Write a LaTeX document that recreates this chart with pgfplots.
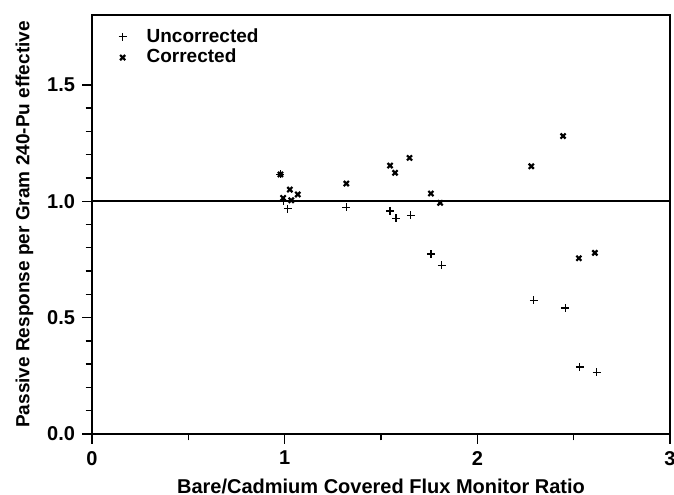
\documentclass[border=0pt]{standalone}
\usepackage{fontspec}
\setmainfont{Liberation Sans}
\usepackage{pgfplots}
\pgfplotsset{compat=1.18}

\begin{document}
\begin{tikzpicture}
  \begin{axis}[
    scale only axis,
    width=289pt, height=209.5pt,
    xmin=0, xmax=3,
    ymin=0, ymax=1.8,
    xtick={0,1,2,3},
    ytick={0,0.5,1,1.5},
    minor x tick num=1,
    minor y tick num=4,
    tick align=outside,
    tick pos=left,
    major tick length=5pt,
    minor tick length=3.2pt,
    every tick/.style={black, line width=0.7pt},
    axis line style={line width=0.8pt},
    /pgf/number format/assume math mode=true,
    ticklabel style={font=\bfseries\fontsize{10}{12}\selectfont},
    yticklabel style={/pgf/number format/.cd, fixed, fixed zerofill, precision=1},
    xticklabel style={/pgf/number format/.cd, fixed, precision=0},
    xlabel={Bare/Cadmium Covered Flux Monitor Ratio},
    ylabel={Passive Response per Gram 240-Pu effective},
    xlabel style={font=\bfseries\fontsize{10}{12}\selectfont},
    ylabel style={font=\bfseries\fontsize{9.5}{11}\selectfont, yshift=0pt},
    legend style={draw=none, fill=none, at={(0.035,0.988)}, anchor=north west,
      font=\bfseries\fontsize{9.5}{11}\selectfont, row sep=-2pt},
    legend image code/.code={\draw[#1] plot coordinates {(0pt,0pt)};},
    /tikz/every odd column/.style={column sep=8pt},
    legend cell align=left,
  ]
  \addplot [only marks, mark=+, mark size=2pt, line width=0.6pt, black] coordinates {
    (0.978, 1.115)
    (1.016, 0.967)
    (0.995, 1.000)
    (1.320, 0.974)
    (1.547, 0.958)
    (1.578, 0.926)
    (1.655, 0.939)
    (1.759, 0.773)
    (1.816, 0.725)
    (2.293, 0.575)
    (2.456, 0.541)
    (2.532, 0.288)
    (2.619, 0.265)
  };
  \addlegendentry{Uncorrected}

  \addplot [only marks, mark=x, mark size=1.8pt, line width=1.1pt, black] coordinates {
    (0.978, 1.115)
    (0.992, 1.014)
    (1.027, 1.050)
    (1.034, 1.004)
    (1.068, 1.029)
    (1.320, 1.076)
    (1.547, 1.153)
    (1.573, 1.122)
    (1.648, 1.186)
    (1.759, 1.033)
    (1.807, 0.993)
    (2.280, 1.150)
    (2.445, 1.280)
    (2.527, 0.755)
    (2.610, 0.778)
  };
  \addlegendentry{Corrected}

  \addplot [black, line width=0.9pt, forget plot] coordinates {(0,1) (3,1)};
  \end{axis}
  \pgfresetboundingbox
  \path ([shift={(-46pt,-30.5pt)}]current axis.south west)
    rectangle ([shift={(2pt,7.5pt)}]current axis.north east);
\end{tikzpicture}
\end{document}
